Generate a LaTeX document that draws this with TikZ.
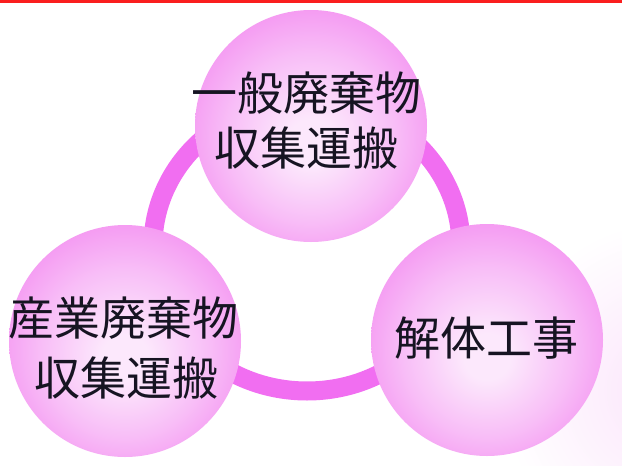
\documentclass[tikz,border=0pt]{standalone}
\usepackage{fontspec}
\newfontfamily\cjk{Noto Sans CJK JP}
\definecolor{pinkout}{RGB}{244,148,241}
\definecolor{pinkmid}{RGB}{248,190,247}
\definecolor{pinkin}{RGB}{252,232,252}
\definecolor{ringpink}{RGB}{241,110,241}
\definecolor{topred}{RGB}{250,30,30}
\definecolor{glow}{RGB}{251,228,251}
\definecolor{txt}{RGB}{22,20,34}
\pgfdeclareradialshading{pinkball}{\pgfpoint{0bp}{-4bp}}{color(0bp)=(pinkin); color(5bp)=(pinkin); color(18bp)=(pinkmid); color(29bp)=(pinkout); color(50bp)=(pinkout)}
\tikzset{
  ball/.style={circle, minimum size=232pt, inner sep=0pt, shading=pinkball},
  ringstyle/.style={draw=ringpink, line width=19pt},
  lbl/.style={font=\cjk\fontsize{46}{50}\selectfont, text=txt, inner sep=0pt, anchor=center}
}
\begin{document}
\begin{tikzpicture}[x=1pt,y=-1pt]
\useasboundingbox (0,0) rectangle (622,466);
\fill[white] (0,0) rectangle (622,466);
% soft glow at right edge
\begin{scope}
\clip (0,0) rectangle (622,466);
\shade[inner color=glow, outer color=white] (670,390) circle[radius=170];
\end{scope}
% red top line
\fill[topred] (0,0) rectangle (622,2.5);
% ring
\coordinate (ringc) at (307,246);
\draw[ringstyle] (ringc) ellipse[x radius=154, y radius=145];
% circles
\node[ball] (top) at (311,126) {};
\node[ball] (left) at (125,341) {};
\node[ball] (right) at (487,340) {};
% labels
\node[lbl] (t1) at (306.5,93) {一般廃棄物};
\node[lbl] (t2) at (306.5,148) {収集運搬};
\node[lbl] (l1) at (124,318) {産業廃棄物};
\node[lbl] (l2) at (126.5,378) {収集運搬};
\node[lbl] (r1) at (486.5,338) {解体工事};
\end{tikzpicture}
\end{document}
